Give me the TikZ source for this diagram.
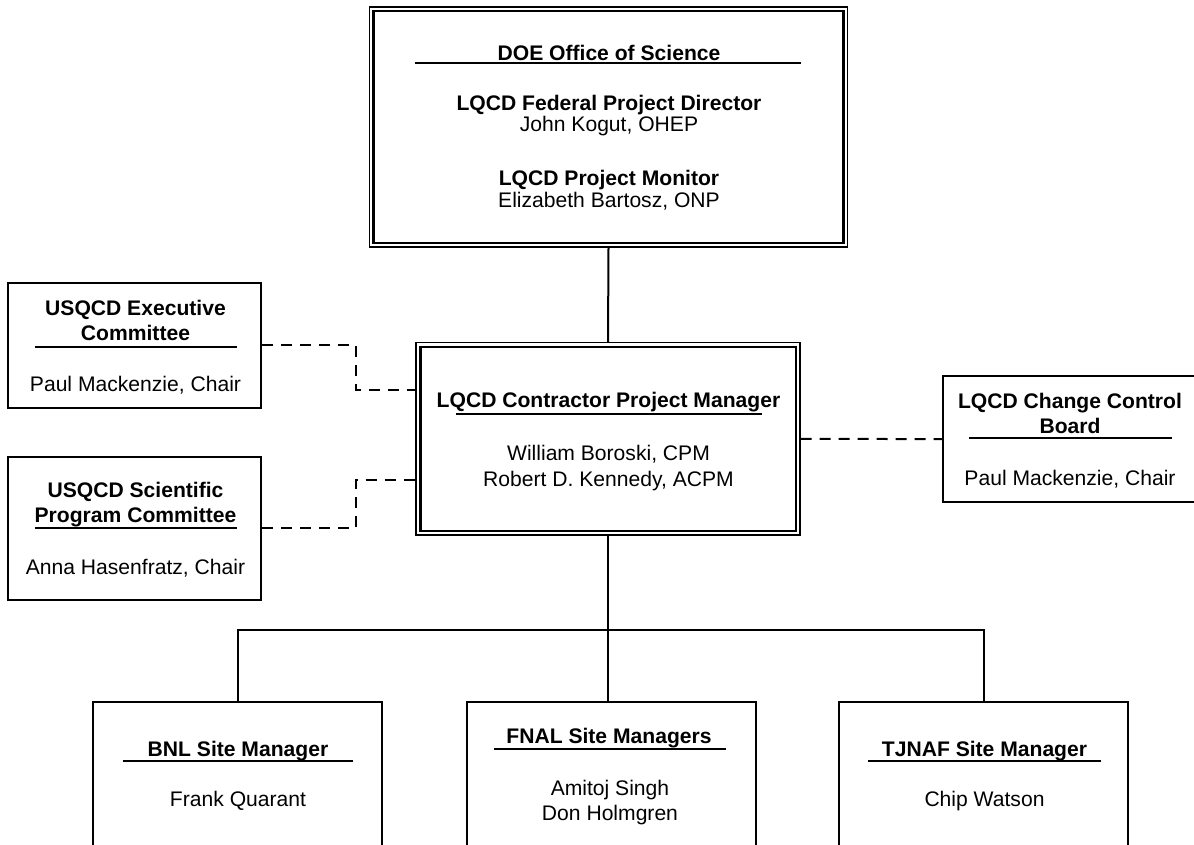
\documentclass[tikz,border=0pt]{standalone}
\usepackage{fontspec}
\setmainfont{Liberation Sans}

\tikzset{
  box/.style={draw,line width=2pt,inner sep=0pt},
  outerbox/.style={draw,line width=1.4pt,inner sep=0pt},
  innerbox/.style={line width=2.4pt},
  head/.style={anchor=base,inner sep=0pt,font=\fontsize{21.1}{24}\selectfont\bfseries},
  person/.style={anchor=base,inner sep=0pt,font=\fontsize{21.1}{24}\selectfont},
  rule/.style={line width=1.8pt},
  solidline/.style={line width=2pt},
  dashline/.style={line width=2pt,dash pattern=on 11pt off 8pt}
}

\begin{document}
\begin{tikzpicture}[x=1pt,y=-1pt]

\useasboundingbox (0,0) rectangle (1194,844);
\clip (0,0) rectangle (1194,844);

% boxes
\node[outerbox,minimum width=478,minimum height=240] (doe) at (608.5,127) {};
\draw[innerbox] ([shift={(4.7,4.7)}]doe.north west) rectangle ([shift={(-4.7,-4.7)}]doe.south east);
\node[outerbox,minimum width=384,minimum height=192.5] (cpm) at (608,438.75) {};
\draw[innerbox] ([shift={(5,5)}]cpm.north west) rectangle ([shift={(-5,-5)}]cpm.south east);

\node[box,minimum width=253,minimum height=125.3] (exec) at (134.5,345.35) {};
\node[box,minimum width=253,minimum height=143.3] (spc) at (134.5,528.35) {};
\node[box,minimum width=253,minimum height=126.3] (ccb) at (1069.5,439.15) {};

\node[box,minimum width=289,minimum height=158] (bnl) at (237.5,781) {};
\node[box,minimum width=289,minimum height=158] (fnal) at (611,781) {};
\node[box,minimum width=289,minimum height=158] (tjnaf) at (983.8,781) {};

% DOE
\node[head] (doeH) at (609,60) {DOE Office of Science};
\draw[rule] (415,63) -- (801,63);
\node[head] (fpd) at (609,110) {LQCD Federal Project Director};
\node[person] (fpdN) at (609,131.5) {John Kogut, OHEP};
\node[head] (mon) at (609,185) {LQCD Project Monitor};
\node[person] (monN) at (609,207) {Elizabeth Bartosz, ONP};

% contractor project manager
\node[head] (cpmH) at (608.5,407.5) {LQCD Contractor Project Manager};
\draw[rule] (456,413.7) -- (762,413.7);
\node[person] (cpmA) at (608.5,460.5) {William Boroski, CPM};
\node[person] (cpmB) at (608.5,486.5) {Robert D. Kennedy, ACPM};

% committees
\node[head] (execA) at (135.5,315) {USQCD Executive};
\node[head] (execB) at (135.5,340) {Committee};
\draw[rule] (35,346.7) -- (237,346.7);
\node[person] (execN) at (135.5,391.5) {Paul Mackenzie, Chair};

\node[head] (spcA) at (135.5,497) {USQCD Scientific};
\node[head] (spcB) at (135.5,522.5) {Program Committee};
\draw[rule] (35,528.3) -- (237,528.3);
\node[person] (spcN) at (135.5,574) {Anna Hasenfratz, Chair};

\node[head] (ccbA) at (1070,408) {LQCD Change Control};
\node[head] (ccbB) at (1070,433) {Board};
\draw[rule] (969,438.3) -- (1172,438.3);
\node[person] (ccbN) at (1070,485) {Paul Mackenzie, Chair};

% sites
\node[head] (bnlH) at (238,756.5) {BNL Site Manager};
\draw[rule] (122.6,761.3) -- (353,761.3);
\node[person] (bnlN) at (238,806.5) {Frank Quarant};

\node[head] (fnalH) at (609,743) {FNAL Site Managers};
\draw[rule] (494,749.3) -- (725.7,749.3);
\node[person] (fnalA) at (610,795) {Amitoj Singh};
\node[person] (fnalB) at (610,820) {Don Holmgren};

\node[head] (tjnafH) at (984.5,756.5) {TJNAF Site Manager};
\draw[rule] (868,761.3) -- (1101,761.3);
\node[person] (tjnafN) at (984.5,806.5) {Chip Watson};

% connectors
\coordinate (bus) at (608,630);
\coordinate (execJ) at (356,390);
\coordinate (spcJ) at (356,480);

\draw[solidline] (doe.south) -- (cpm.north);
\draw[solidline] (cpm.south) -- (bus) -- (bus |- fnal.north);
\draw[solidline] (bnl.north) -- (bnl.north |- bus) -- (tjnaf.north |- bus) -- (tjnaf.north);

\draw[dashline] (exec.east) -| (execJ) -- (execJ -| cpm.west);
\draw[dashline] (spc.east) -| (spcJ) -- (spcJ -| cpm.west);
\draw[dashline] (cpm.east) -- (ccb.west);

\end{tikzpicture}
\end{document}
